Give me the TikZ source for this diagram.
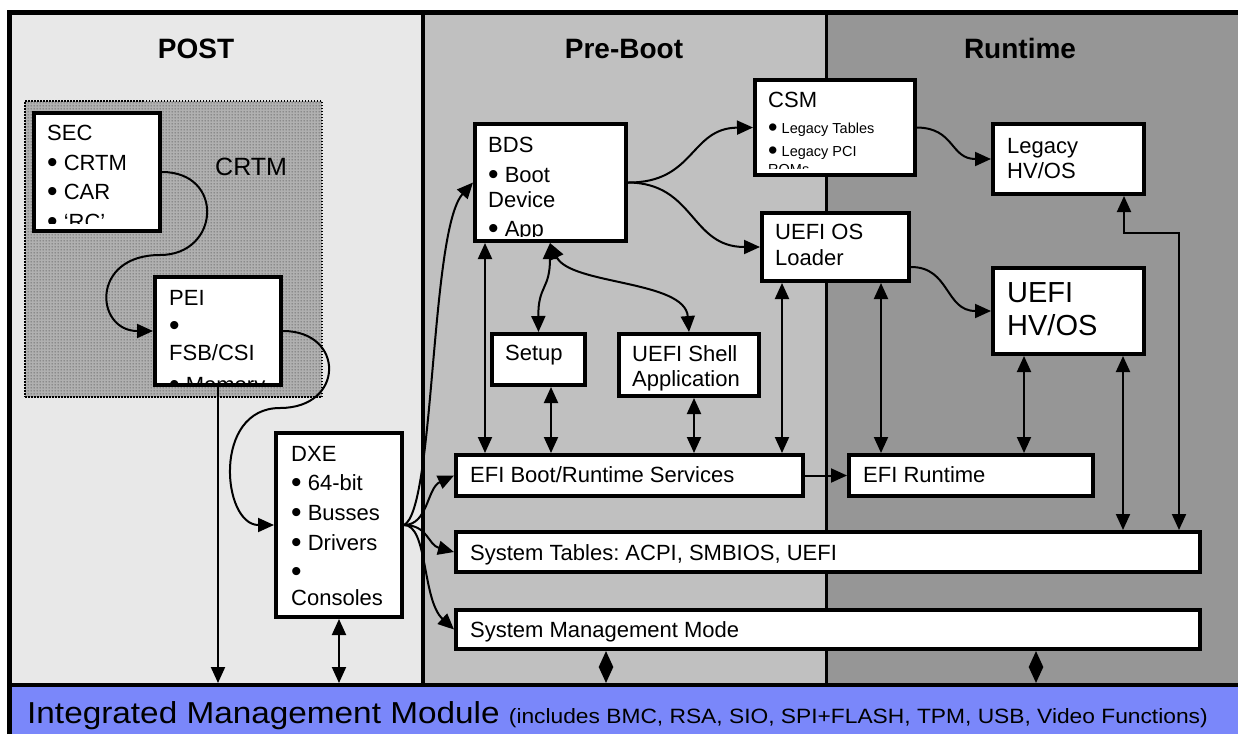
\documentclass[tikz,border=0pt]{standalone}
\usepackage{graphicx}
\usepackage{fontspec}
\setmainfont{Liberation Sans}
\usetikzlibrary{arrows.meta,patterns,fit}
\frenchspacing

\newcommand\setfs[1]{\fontsize{#1}{#1}\selectfont}
% large round bullets, for 22px and 14.5px lines
\newcommand\bul{\smash{\raisebox{-2.5pt}{\setfs{30}•}}}
\newcommand\sbul{\smash{\raisebox{-3.4pt}{\setfs{27}•}}}

% dot screen for the CRTM region
\pgfdeclarepatternformonly{crtmdots}{\pgfpointorigin}{\pgfpoint{3pt}{3pt}}{\pgfpoint{3pt}{3pt}}{%
  \pgfpathcircle{\pgfpoint{1.5pt}{1.5pt}}{0.95pt}\pgfusepath{fill}}

\definecolor{postbg}{HTML}{E8E8E8}
\definecolor{prebg}{HTML}{C0C0C0}
\definecolor{rtbg}{HTML}{969696}
\definecolor{immblue}{HTML}{7A87FA}
\definecolor{crtmbg}{HTML}{B0B0B0}

% text lines of a box, clipped to its interior:
% #1 box, #2 left x, #3 lowest visible y, #4 font, #5 baseline/text list
\newcommand\boxlines[5]{%
  \begin{scope}
    \clip ([xshift=4pt,yshift=-4pt]#1.north west) rectangle (#1.east |- 0,#3);
    \foreach \yy/\txt [count=\k] in {#5}
      \node[anchor=base west, inner sep=0pt, font=#4] (#1-\k) at (#2,\yy) {\txt};
  \end{scope}}

\begin{document}
\begin{tikzpicture}[x=1pt,y=-1pt,
  box/.style={draw=black, line width=4pt, fill=white, inner sep=0pt},
  conn/.style={line width=2pt},
  arr/.style={conn, -{Triangle[length=16pt,width=14pt]}},
  dbl/.style={conn, {Triangle[length=16pt,width=14pt]}-{Triangle[length=16pt,width=14pt]}},
  head/.style={font=\bfseries\setfs{28}, inner sep=0pt, anchor=base},
  crtmbox/.style={inner sep=0pt, draw=black, line width=2.5pt,
    dash pattern=on 1.5pt off 1.5pt,
    preaction={fill=crtmbg}, pattern=crtmdots, pattern color=black!60},
]
\useasboundingbox (0,0) rectangle (1238,734);
\fill[white] (0,0) rectangle (1238,734);

% phase columns
\fill[postbg] (12,15) rectangle (422,685);
\fill[prebg] (422,15) rectangle (827,685);
\fill[rtbg] (827,15) rectangle (1238,685);

% management module band
\node[fill=immblue, inner sep=0pt, outer sep=0pt, fit={(7,683) (1238,734)}] (imm) {};

% frame and dividers
\draw[line width=5pt] (9.7,734) -- (9.7,12.5) -- (1238,12.5);
\draw[line width=4pt] (7,685.3) -- (1238,685.3);
\draw[line width=4pt] (422.5,12.5) -- (422.5,685);
\draw[line width=3.5pt] (826.5,12.5) -- (826.5,685);

% phase headings
\node[head] (post-h) at (196,58) {POST};
\node[head] (pre-h) at (624,58) {Pre-Boot};
\node[head] (rt-h) at (1020,58) {Runtime};

% CRTM region
\node[crtmbox, fit={(25,101) (322,397)}] (crtm) {};
\node[anchor=base west, inner sep=0pt, font=\setfs{25}] (crtm-label) at (215,175) {CRTM};

% boxes
\node[box, fit={(34,113) (160,231)}] (sec) {};
\node[box, fit={(155,277) (281,385)}] (pei) {};
\node[box, fit={(276,433) (402,617)}] (dxe) {};
\node[box, fit={(475,124) (626,241)}] (bds) {};
\node[box, fit={(755,80) (915,175)}] (csm) {};
\node[box, fit={(993,124) (1144,194)}] (legacy) {};
\node[box, fit={(762,213) (909,281)}] (loader) {};
\node[box, fit={(993,268) (1144,354)}] (uefios) {};
\node[box, fit={(492,334) (585,385)}] (setup) {};
\node[box, fit={(619,334) (759,396)}] (shell) {};
\node[box, fit={(456,455) (803,496)}] (efiboot) {};
\node[box, fit={(849,455) (1093,496)}] (efirt) {};
\node[box, fit={(456,532) (1200,572)}] (systab) {};
\node[box, fit={(456,610) (1200,649)}] (smm) {};

% box texts
\boxlines{sec}{47}{223}{\setfs{22}}{140/SEC, 170/\bul\ CRTM, 199/\bul\ CAR, 229/\bul\ ‘RC’}
\boxlines{pei}{169}{382}{\setfs{22}}{305/PEI, 333/\bul, 360/{FSB/CSI}, 392/\bul\ Memory}
\boxlines{dxe}{291}{700}{\setfs{22}}{461/DXE, 490/\bul\ 64-bit, 520/\bul\ Busses, 550/\bul\ Drivers, 579/\bul, 605/Consoles}
\boxlines{bds}{488}{236}{\setfs{22}}{152/BDS, 182/\bul\ Boot, 207/Device, 236/\bul\ App}
\boxlines{csm}{768}{168}{\setfs{14.5}}{107/{\setfs{22}CSM}, 133/\sbul\ Legacy Tables, 156/\sbul\ Legacy PCI, 174.5/ROMs}
\boxlines{legacy}{1007}{700}{\setfs{22}}{153/Legacy, 178/{HV/OS}}
\boxlines{loader}{775}{700}{\setfs{22}}{239/UEFI OS, 265/Loader}
\boxlines{uefios}{1007}{700}{\setfs{29}}{302/UEFI, 335/{HV/OS}}
\boxlines{setup}{505}{700}{\setfs{22}}{360/Setup}
\boxlines{shell}{632}{700}{\setfs{22}}{361/UEFI Shell, 386/Application}
\boxlines{efiboot}{470}{700}{\setfs{22}}{482/{EFI Boot/Runtime Services}}
\boxlines{efirt}{863}{700}{\setfs{22}}{482/EFI Runtime}
\boxlines{systab}{470}{700}{\setfs{22}}{560/System Tables: ACPI{,} SMBIOS{,} UEFI}
\boxlines{smm}{470}{700}{\setfs{22}}{637/System Management Mode}

% module band text
\node[anchor=base west, inner sep=0pt] (imm-text) at (27,723)
  {\scalebox{1.1}[1]{\setfs{30.3}Integrated Management Module \setfs{20.7}(includes BMC, RSA, SIO, SPI+FLASH, TPM, USB, Video Functions)}};

% POST flow
\draw[arr] (sec.east) .. controls (225,172) and (220,255) .. (160,255)
  .. controls (90,255) and (95,331) .. (pei.west);
\draw[arr] (pei.east) .. controls (345,331) and (345,408) .. (280,408)
  .. controls (212,408) and (222,525) .. (dxe.west);
\draw[arr] (pei.south) -- (pei.south |- imm.north);
\draw[dbl] (dxe.south) -- (dxe.south |- imm.north);

% DXE fan-out
\draw[arr] (dxe.east) .. controls (435,510) and (430,230) .. (bds.west);
\draw[arr] (dxe.east) .. controls (428,525) and (427,488) .. (efiboot.west);
\draw[arr] (dxe.east) .. controls (428,525) and (428,545) .. (systab.west);
\draw[arr] (dxe.east) .. controls (428,525) and (422,600) .. (smm.west);

% boot selection
\draw[arr] (bds.east) .. controls (695,183) and (690,128) .. (csm.west);
\draw[arr] (bds.east) .. controls (695,183) and (690,247) .. (loader.west);
\draw[arr] (csm.east) .. controls (955,128) and (950,159) .. (legacy.west);
\draw[arr] (loader.east |- 0,267) .. controls (950,267) and (945,311) .. (uefios.west);

% BDS helpers
\draw[dbl] (485,0 |- bds.south) -- (485,0 |- efiboot.north);
\draw[dbl] (550,0 |- bds.south) .. controls (550,290) and (538,285) .. (setup.north);
\draw[dbl] (550,0 |- bds.south) .. controls (570,285) and (685,280) .. (shell.north);

% service links
\draw[dbl] (551,0 |- setup.south) -- (551,0 |- efiboot.north);
\draw[dbl] (694,0 |- shell.south) -- (694,0 |- efiboot.north);
\draw[dbl] (782,0 |- loader.south) -- (782,0 |- efiboot.north);
\draw[arr] (efiboot.east) -- (efirt.west);
\draw[dbl] (881,0 |- loader.south) -- (881,0 |- efirt.north);
\draw[dbl] (1024,0 |- uefios.south) -- (1024,0 |- efirt.north);
\draw[dbl] (1123,0 |- uefios.south) -- (1123,0 |- systab.north);
\draw[dbl] (1124,0 |- legacy.south) -- (1124,233) -| (1179,0 |- systab.north);

% SMM to management module
\draw[dbl] (606,0 |- smm.south) -- (606,0 |- imm.north);
\draw[dbl] (1036,0 |- smm.south) -- (1036,0 |- imm.north);
\end{tikzpicture}
\end{document}
